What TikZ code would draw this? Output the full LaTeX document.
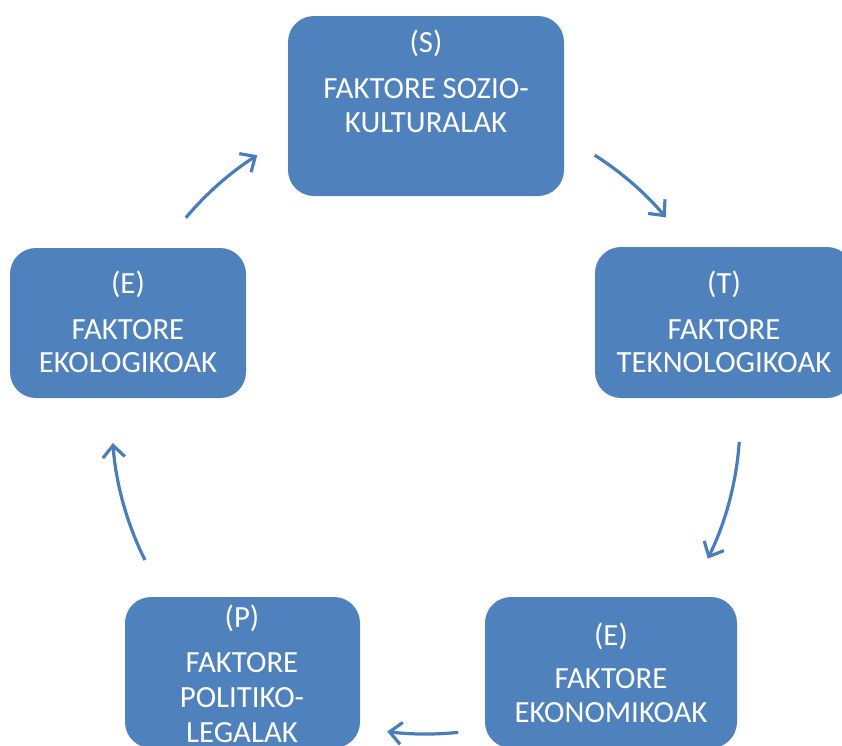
\documentclass[tikz,border=0pt]{standalone}
\usepackage{fontspec}
\setmainfont{Carlito}
\usetikzlibrary{arrows.meta}
\definecolor{officeblue}{HTML}{4F81BD}
\definecolor{arrowblue}{HTML}{4A7EBB}
\tikzset{
  box/.style={fill=officeblue, draw=none, rounded corners=26pt, inner sep=0pt},
  txt/.style={text=white, font=\fontsize{30.8}{34}\selectfont, inner sep=0pt, anchor=base},
  cyc/.style={draw=arrowblue, line width=3.2pt, -{Straight Barb[length=12pt,width=22pt]}},
}
\begin{document}
\begin{tikzpicture}[x=1pt, y=-1pt]
  \useasboundingbox (0,0) rectangle (842,745);
  \clip (0,0) rectangle (842,745);

  % five factor boxes
  \node[box, minimum width=276pt, minimum height=180pt] (S) at (426,106) {};
  \node[box, minimum width=258pt, minimum height=151pt] (T) at (724,322.5) {};
  \node[box, minimum width=252pt, minimum height=151pt] (Ek) at (611,672.5) {};
  \node[box, minimum width=235pt, minimum height=151pt] (P) at (242.5,672.5) {};
  \node[box, minimum width=236pt, minimum height=150pt] (Eo) at (128,323) {};

  % labels
  \node[txt] (s1) at (426,52) {(S)};
  \node[txt] (s2) at (426,98) {FAKTORE SOZIO-};
  \node[txt] (s3) at (426,132) {KULTURALAK};

  \node[txt] (t1) at (724,293) {(T)};
  \node[txt] (t2) at (724,339) {FAKTORE};
  \node[txt] (t3) at (724,372) {TEKNOLOGIKOAK};

  \node[txt] (k1) at (611,645) {(E)};
  \node[txt] (k2) at (611,688) {FAKTORE};
  \node[txt] (k3) at (611,722) {EKONOMIKOAK};

  \node[txt] (p1) at (242,627) {(P)};
  \node[txt] (p2) at (242,672) {FAKTORE};
  \node[txt] (p3) at (242,707) {POLITIKO-};
  \node[txt] (p4) at (242,742) {LEGALAK};

  \node[txt] (o1) at (128,293) {(E)};
  \node[txt] (o2) at (128,339) {FAKTORE};
  \node[txt] (o3) at (128,372) {EKOLOGIKOAK};

  % cycle arrows on a common circle
  \coordinate (c) at (426,420);
  \draw[cyc] ([shift={(-57.5:314)}]c) arc[start angle=-57.5, end angle=-40.2, radius=314];
  \draw[cyc] ([shift={(4.0:314)}]c) arc[start angle=4.0, end angle=26.2, radius=314];
  \draw[cyc] ([shift={(84.1:314)}]c) arc[start angle=84.1, end angle=97.1, radius=314];
  \draw[cyc] ([shift={(153.5:314)}]c) arc[start angle=153.5, end angle=175.8, radius=314];
  \draw[cyc] ([shift={(220.1:314)}]c) arc[start angle=220.1, end angle=237.5, radius=314];
\end{tikzpicture}
\end{document}
